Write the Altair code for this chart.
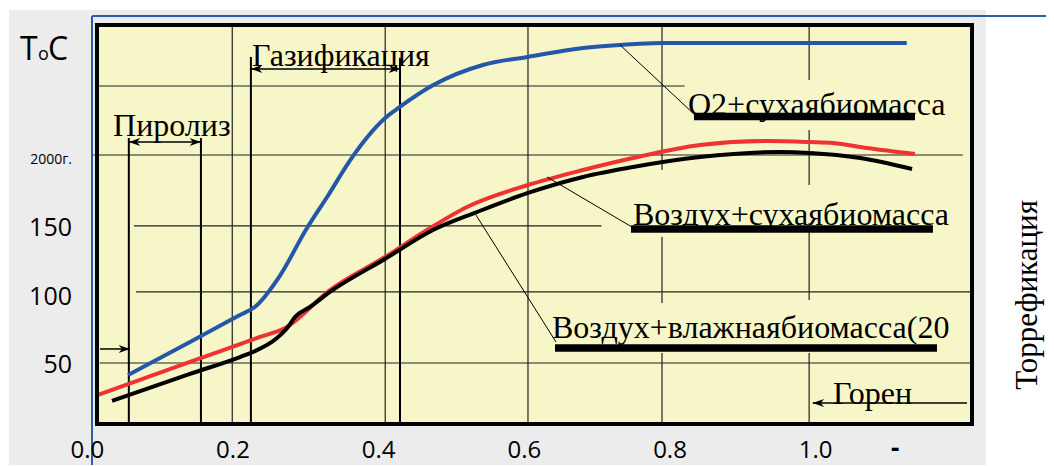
import altair as alt
import pandas as pd

# ---- curves (x: fraction, y: temperature units) ----
blue_x = [0.056, 0.141, 0.2096, 0.230, 0.265, 0.300, 0.331, 0.361, 0.409, 0.429, 0.475, 0.543, 0.604, 0.681, 0.731, 0.789, 0.841, 1.125]
blue_y = [42.5, 66.7, 86.5, 92.4, 115.8, 148.8, 174.5, 200.1, 230.9, 239.0, 255.1, 269.8, 275.7, 282.3, 284.5, 285.9, 285.9, 285.9]

red_x = [0.0147, 0.1410, 0.2370, 0.2714, 0.3332, 0.4087, 0.4664, 0.5213, 0.6050, 0.6805, 0.7492, 0.8412, 0.9331, 0.9923, 1.0238, 1.0706, 1.1363]
red_y = [27.9, 52.1, 70.4, 77.0, 104.8, 129.0, 148.8, 165.7, 181.8, 192.8, 201.6, 211.1, 214.1, 213.3, 212.6, 208.9, 204.5]

black_x = [0.0339, 0.1410, 0.2096, 0.2275, 0.2604, 0.2755, 0.2851, 0.3057, 0.3332, 0.4087, 0.4746, 0.5350, 0.6050, 0.6805, 0.7492, 0.8412, 0.9510, 0.9923, 1.0610, 1.1323]
black_y = [23.5, 43.3, 55.7, 59.4, 69.6, 77.7, 85.0, 92.4, 103.4, 127.6, 148.8, 162.0, 176.0, 187.7, 195.0, 202.3, 206.0, 205.3, 201.6, 193.5]

# ---- tick labels ----
xtick_vals = [0.0, 0.2, 0.4, 0.6, 0.8, 1.0]
xtick_text = ["0.0", "0.2", "0.4", "0.6", "0.8", "1.0"]
dash_x = [1.109]
ytick_vals = [50, 100, 150]
ytick_text = ["50", "100", "150"]
ytick_small_val = [200.1]
ytick_small_text = ["2000г."]

# ---- grid segments ----
hgrid_y = [254.4, 203.8, 151.8, 103.4, 51.3]
hgrid_x0 = [0.013, 0.008, 0.064, 0.067, 0.017]
hgrid_x1 = [0.820, 1.202, 0.706, 1.212, 1.212]

vgrid_x = [0.199, 0.409, 0.605, 0.789, 0.789, 0.789, 0.991, 0.991, 0.991, 0.991]
vgrid_y0 = [6.6, 6.6, 6.6, 192.8, 95.3, 6.6, 258.8, 181.8, 97.5, 6.6]
vgrid_y1 = [299.1, 299.1, 299.1, 299.1, 143.7, 58.6, 299.1, 222.1, 154.0, 58.6]

# ---- stage boundaries ----
zone_x = [0.057, 0.156, 0.2246, 0.4293]
zone_top = [216.3, 216.3, 275.7, 275.0]
zone_bottom = [6.6, 6.6, 6.6, 6.6]

# ---- arrows ----
arrow_x0 = [0.057, 0.2246, 0.0174, 1.2077]
arrow_x1 = [0.156, 0.4293, 0.0586, 0.9959]
arrow_y = [213.3, 266.9, 61.6, 22.0]
head_r_x = [0.156, 0.4293, 0.0586]
head_r_y = [213.3, 266.9, 61.6]
head_l_x = [0.057, 0.2246, 0.9959]
head_l_y = [213.3, 266.9, 22.0]

# ---- labels ----
lab_text = ["Пиролиз", "Газификация", "O2+сухаябиомасса", "Воздух+сухаябиомасса",
            "Воздух+влажнаябиомасса(20", "Горен"]
lab_x = [0.0353, 0.2261, 0.8247, 0.7492, 0.6380, 1.0238]
lab_y = [217.7, 269.1, 233.4, 152.8, 69.6, 21.3]

bar_x0 = [0.8329, 0.7464, 0.6421]
bar_x1 = [1.1363, 1.1610, 1.1665]
bar_y = [232.0, 149.6, 62.3]

lead_x0 = [0.7313, 0.6311, 0.5336]
lead_y0 = [284.5, 187.7, 159.8]
lead_x1 = [0.8343, 0.7478, 0.6435]
lead_y1 = [233.1, 151.0, 66.7]

side_text = ["Торрефикация"]
side_x = [1.2915]
side_y = [101.2]

# ---------------------------------------------------------------
W, H = 875, 399
XS = alt.Scale(domain=[0.0133, 1.2146], nice=False, zero=False)
YS = alt.Scale(domain=[6.6, 299.1], nice=False, zero=False)
SERIF = "Liberation Serif"
SANS = "Open Sans"


def X(f):
    return alt.X(f, type="quantitative", scale=XS, axis=None)


def Y(f):
    return alt.Y(f, type="quantitative", scale=YS, axis=None)


one = pd.DataFrame({"k": [0]})

bg = alt.Chart(one).mark_rect(color="#ececec").encode(
    x=alt.value(-88), x2=alt.value(889), y=alt.value(-15), y2=alt.value(445))
panel = alt.Chart(one).mark_rect(color="#f7f6c9").encode(
    x=alt.value(0), x2=alt.value(W), y=alt.value(0), y2=alt.value(H))

hgrid = pd.DataFrame({"x": hgrid_x0, "x2": hgrid_x1, "y": hgrid_y, "y2": hgrid_y})
vgrid = pd.DataFrame({"x": vgrid_x, "x2": vgrid_x, "y": vgrid_y0, "y2": vgrid_y1})
grid = alt.Chart(pd.concat([hgrid, vgrid])).mark_rule(color="#222222", strokeWidth=1.2).encode(
    x=X("x"), x2="x2", y=Y("y"), y2="y2")

zones = alt.Chart(pd.DataFrame({"x": zone_x, "y": zone_bottom, "y2": zone_top})).mark_rule(
    color="black", strokeWidth=2).encode(x=X("x"), y=Y("y"), y2="y2")

arrows = alt.Chart(pd.DataFrame({"x": arrow_x0, "x2": arrow_x1, "y": arrow_y})).mark_rule(
    color="black", strokeWidth=1.5).encode(x=X("x"), x2="x2", y=Y("y"))
RIGHT = "M0,0L-2,-0.7L-1.4,0L-2,0.7Z"
LEFT = "M0,0L2,-0.7L1.4,0L2,0.7Z"
heads_r = alt.Chart(pd.DataFrame({"x": head_r_x, "y": head_r_y})).mark_point(
    shape=RIGHT, filled=True, size=130, color="black", opacity=1).encode(x=X("x"), y=Y("y"))
heads_l = alt.Chart(pd.DataFrame({"x": head_l_x, "y": head_l_y})).mark_point(
    shape=LEFT, filled=True, size=130, color="black", opacity=1).encode(x=X("x"), y=Y("y"))

curves = pd.concat([
    pd.DataFrame({"x": blue_x, "y": blue_y, "s": "O2"}),
    pd.DataFrame({"x": red_x, "y": red_y, "s": "dry"}),
    pd.DataFrame({"x": black_x, "y": black_y, "s": "wet"}),
])
lines = alt.Chart(curves).mark_line(interpolate="monotone", strokeWidth=4).encode(
    x=X("x"), y=Y("y"),
    color=alt.Color("s:N", scale=alt.Scale(domain=["O2", "dry", "wet"],
                                           range=["#2457a8", "#ef3333", "#000000"]), legend=None),
    detail="s:N")

leaders = alt.Chart(pd.DataFrame({"x": lead_x0, "x2": lead_x1, "y": lead_y0, "y2": lead_y1})).mark_rule(
    color="black", strokeWidth=1).encode(x=X("x"), x2="x2", y=Y("y"), y2="y2")

labels = alt.Chart(pd.DataFrame({"x": lab_x, "y": lab_y, "t": lab_text})).mark_text(
    font=SERIF, fontSize=32, align="left", baseline="alphabetic", color="black").encode(
    x=X("x"), y=Y("y"), text="t:N")

bars = alt.Chart(pd.DataFrame({"x": bar_x0, "x2": bar_x1, "y": bar_y})).mark_rule(
    color="black", strokeWidth=7.5).encode(x=X("x"), x2="x2", y=Y("y"))

frame = alt.Chart(one).mark_rect(fillOpacity=0, stroke="black", strokeWidth=4).encode(
    x=alt.value(0), x2=alt.value(W), y=alt.value(0), y2=alt.value(H))

blue_h = alt.Chart(one).mark_rule(color="#2e5da8", strokeWidth=2).encode(
    x=alt.value(-5), x2=alt.value(965), y=alt.value(-9))
blue_v = alt.Chart(one).mark_rule(color="#2e5da8", strokeWidth=2).encode(
    x=alt.value(-5), y=alt.value(-9), y2=alt.value(445))

xt = alt.Chart(pd.DataFrame({"x": xtick_vals, "t": xtick_text})).mark_text(
    font=SANS, fontSize=24, align="center", baseline="middle", color="black").encode(
    x=X("x"), y=alt.value(426), text="t:N")
dash = alt.Chart(pd.DataFrame({"x": dash_x, "t": ["-"]})).mark_text(
    font=SANS, fontSize=26, fontWeight="bold", align="center", baseline="middle", color="black").encode(
    x=X("x"), y=alt.value(424), text="t:N")
yt = alt.Chart(pd.DataFrame({"y": ytick_vals, "t": ytick_text})).mark_text(
    font=SANS, fontSize=25, align="right", baseline="middle", color="black").encode(
    x=alt.value(-25), y=Y("y"), text="t:N")
yt_small = alt.Chart(pd.DataFrame({"y": ytick_small_val, "t": ytick_small_text})).mark_text(
    font=SANS, fontSize=14, align="right", baseline="middle", color="black").encode(
    x=alt.value(-25), y=Y("y"), text="t:N")

t_big = alt.Chart(pd.DataFrame({"t": ["T", "C"], "p": [-77, -49]})).mark_text(
    font=SANS, fontSize=32, align="left", baseline="alphabetic", color="black").encode(
    x=alt.X("p:Q", scale=None, axis=None), y=alt.value(35), text="t:N")
t_small = alt.Chart(pd.DataFrame({"t": ["o"]})).mark_text(
    font=SANS, fontSize=18, align="left", baseline="alphabetic", color="black").encode(
    x=alt.value(-59), y=alt.value(35), text="t:N")

side = alt.Chart(pd.DataFrame({"x": side_x, "y": side_y, "t": side_text})).mark_text(
    font=SERIF, fontSize=31, angle=270, align="center", baseline="middle", color="black").encode(
    x=X("x"), y=Y("y"), text="t:N")

chart = alt.layer(
    bg, panel, grid, zones, arrows, heads_r, heads_l, lines, leaders, labels, bars,
    frame, blue_h, blue_v, xt, dash, yt, yt_small, t_big, t_small, side
).resolve_scale(x="shared", y="shared").properties(
    width=W, height=H, autosize="none",
    padding={"left": 89, "top": 17, "right": 74, "bottom": 41},
    background="white",
).configure_view(stroke=None)

chart.save("out.html", embed_options={"renderer": "svg", "actions": False})
